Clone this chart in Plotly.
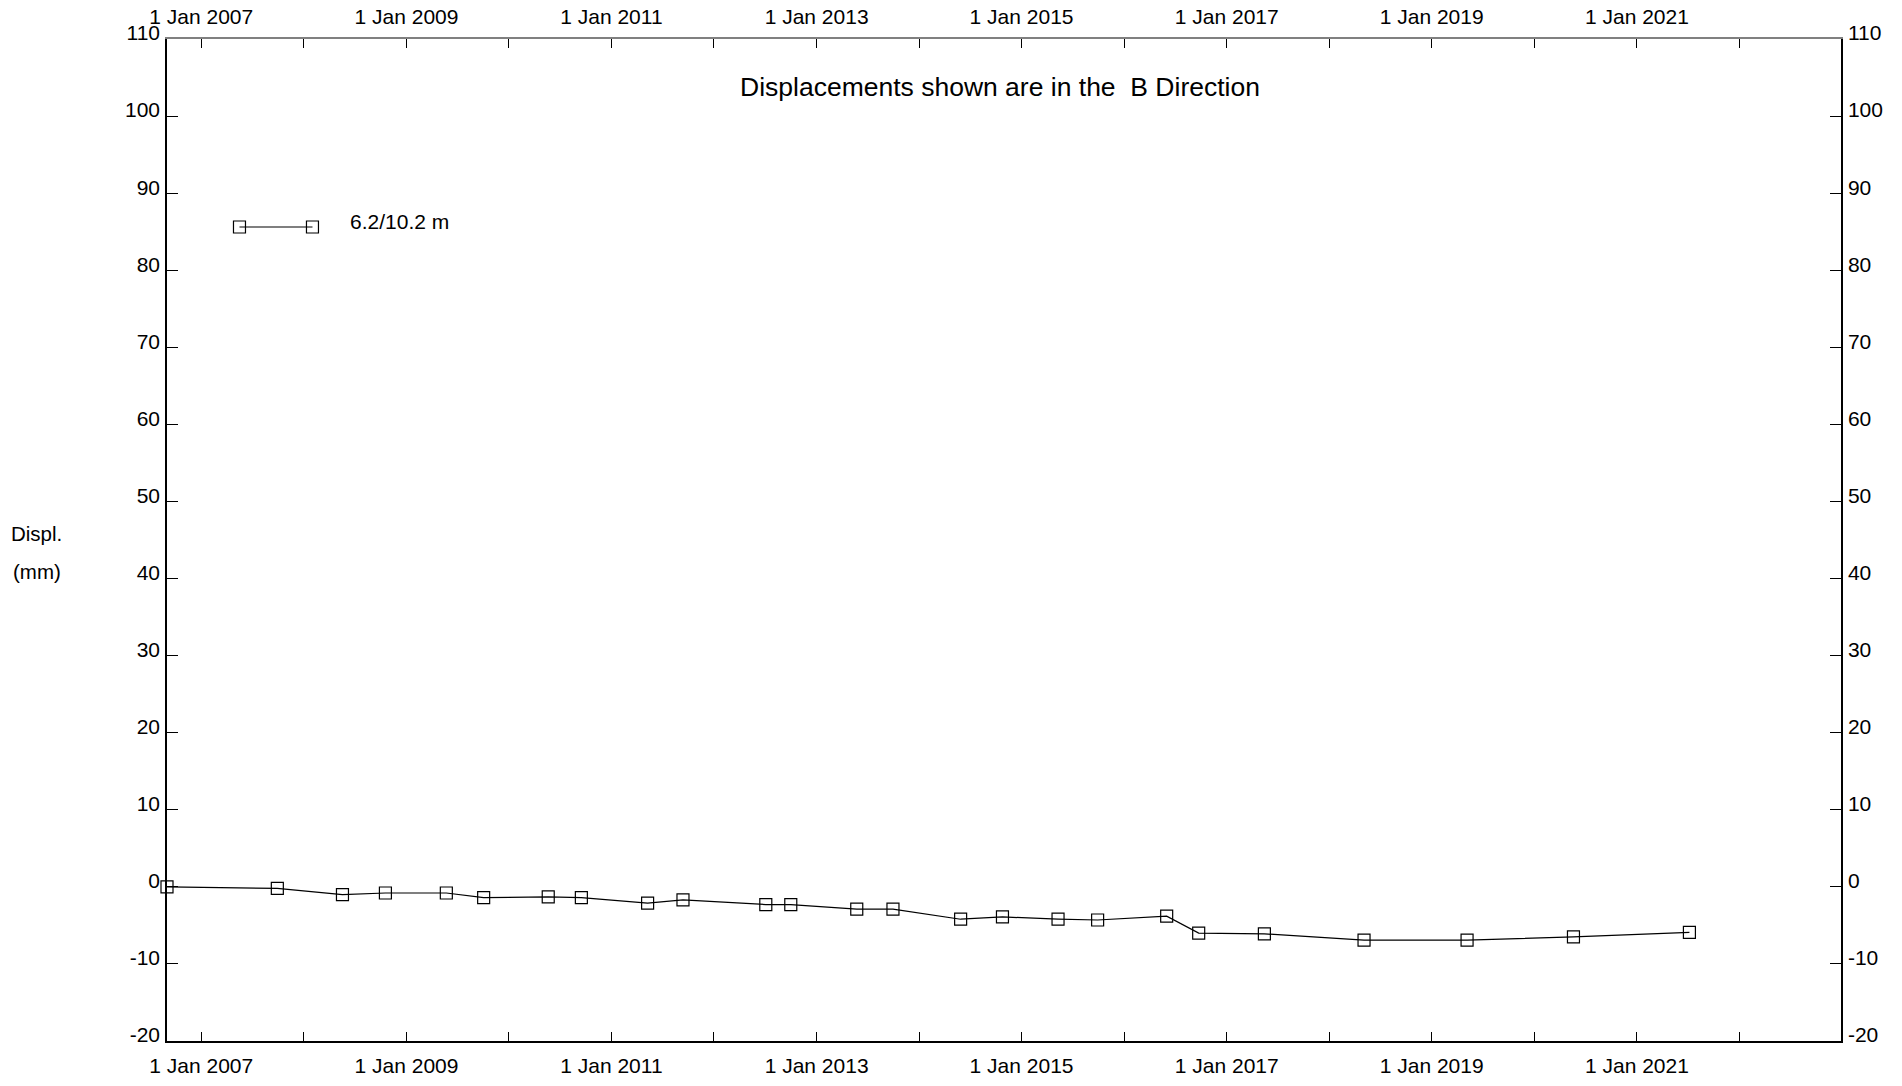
import plotly.graph_objects as go

# ---- data ----
dates = ["2006-09-01", "2007-09-29", "2008-05-18", "2008-10-18", "2009-05-23",
         "2009-10-03", "2010-05-21", "2010-09-16", "2011-05-10", "2011-09-13",
         "2012-07-04", "2012-10-01", "2013-05-24", "2013-09-30", "2014-05-29",
         "2014-10-25", "2015-05-11", "2015-09-29", "2016-06-01", "2016-09-23",
         "2017-05-15", "2018-05-05", "2019-05-07", "2020-05-20", "2021-07-07"]
displ = [0.0, -0.2, -1.0, -0.8, -0.8, -1.4, -1.3, -1.4, -2.1, -1.7,
         -2.3, -2.3, -2.9, -2.9, -4.2, -3.9, -4.2, -4.3, -3.8, -6.0,
         -6.1, -6.9, -6.9, -6.5, -5.9]
series_name = "6.2/10.2 m"
title_text = "Displacements shown are in the&nbsp; B Direction"
year_ticks = [f"{y}-01-01" for y in range(2007, 2023)]
year_labels = [f"1 Jan {y}" if y % 2 == 1 else "" for y in range(2007, 2023)]
y_ticks = list(range(-20, 111, 10))
y_labels = [str(v) for v in y_ticks]

FONT = "Liberation Sans, Arial, sans-serif"
x_range = ["2006-09-01", "2022-12-29"]
y_range = [-20, 110]

fig = go.Figure()
fig.add_trace(go.Scatter(
    x=dates, y=displ, mode="lines+markers", name=series_name,
    line=dict(color="black", width=1.2),
    marker=dict(symbol="square-open", size=12, color="black", line=dict(width=1.2)),
    showlegend=False, cliponaxis=False,
))
# invisible trace to activate the mirrored axes
fig.add_trace(go.Scatter(x=[dates[0]], y=[displ[0]], xaxis="x2", yaxis="y2",
                         mode="markers", marker=dict(opacity=0), showlegend=False,
                         hoverinfo="skip"))
# legend sample (overlay axes in plot-fraction units)
fig.add_trace(go.Scatter(x=[0.0433, 0.0869], y=[0.8124, 0.8124], xaxis="x3", yaxis="y3",
                         mode="lines+markers", showlegend=False, hoverinfo="skip",
                         line=dict(color="black", width=1.2),
                         marker=dict(symbol="square-open", size=12, color="black",
                                     line=dict(width=1.2)), cliponaxis=False))

tickfont = dict(family=FONT, size=21, color="black")
common_x = dict(range=x_range, type="date", tickmode="array", tickvals=year_ticks,
                ticktext=year_labels, ticks="inside", ticklen=9, tickwidth=1.2,
                tickcolor="black", showgrid=False, zeroline=False, showline=True,
                linewidth=1.5, tickfont=tickfont, ticklabelstandoff=5,
                automargin=False)
common_y = dict(range=y_range, tickmode="array", tickvals=y_ticks, ticktext=y_labels,
                ticks="inside", ticklen=11, tickwidth=1.2, tickcolor="black",
                showgrid=False, zeroline=False, showline=True, linecolor="black",
                linewidth=1.5, tickfont=tickfont, ticklabelshift=-6, ticklabelstandoff=1,
                automargin=False)

fig.update_layout(
    template="none",
    width=1902, height=1086,
    margin=dict(l=167, r=61, t=39, b=45, pad=0),
    paper_bgcolor="white", plot_bgcolor="white",
    font=dict(family=FONT, size=21, color="black"),
    xaxis=dict(**common_x, side="bottom", linecolor="black"),
    xaxis2=dict(**common_x, side="top", overlaying="x", matches="x", linecolor="#808080"),
    yaxis=dict(**common_y, side="left"),
    yaxis2=dict(**common_y, side="right", overlaying="y", matches="y"),
    xaxis3=dict(range=[0, 1], overlaying="x", visible=False, automargin=False),
    yaxis3=dict(range=[0, 1], overlaying="y", visible=False, automargin=False),
    annotations=[
        dict(text=title_text, x=0.4976, y=0.952, xref="paper", yref="paper",
             xanchor="center", yanchor="middle", showarrow=False,
             font=dict(family=FONT, size=26.5, color="black")),
        dict(text=series_name, x=0.1083, y=0.818, xref="paper", yref="paper",
             xanchor="left", yanchor="middle", showarrow=False,
             font=dict(family=FONT, size=21, color="black")),
        dict(text="Displ.", x=-0.0943, y=0.506, xref="paper", yref="paper",
             xanchor="left", yanchor="middle", showarrow=False,
             font=dict(family=FONT, size=20.5, color="black")),
        dict(text="(mm)", x=-0.0931, y=0.469, xref="paper", yref="paper",
             xanchor="left", yanchor="middle", showarrow=False,
             font=dict(family=FONT, size=20.5, color="black")),
    ],
)

fig.write_html("out.html",
               config={"displayModeBar": False},
               post_script="document.body.style.margin='0';"
                           "document.body.style.overflow='hidden';"
                           "document.documentElement.style.overflow='hidden';")
